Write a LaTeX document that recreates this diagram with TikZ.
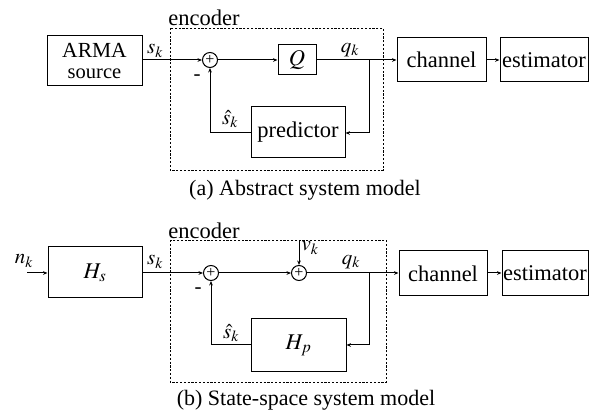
\documentclass[tikz,border=0pt]{standalone}
\usepackage{mathptmx}
\usepackage{fontspec}
\setmainfont{Liberation Serif}
\usetikzlibrary{arrows.meta}

\begin{document}
\begin{tikzpicture}[x=1pt,y=-1pt,
  every node/.style={font=\fontsize{22.5}{26}\selectfont},
  blk/.style={draw,line width=1pt,inner sep=0pt,align=center},
  sumnode/.style={draw,circle,line width=1pt,inner sep=0pt,minimum size=15pt,
    font=\fontsize{16}{16}\selectfont},
  encbox/.style={draw,line width=0.8pt,dash pattern=on 2.2pt off 1.6pt},
  wire/.style={line width=1pt},
  arr/.style={wire,-{Stealth[length=4.5pt,width=3.6pt]}},
  lbl/.style={inner sep=0pt,font=\fontsize{21}{24}\selectfont},
  captiontext/.style={inner sep=0pt,font=\fontsize{22}{26}\selectfont}]

\useasboundingbox (0,0) rectangle (590,411);

% ---------- (a) abstract system model ----------
\draw[encbox] (170,28) rectangle (383,170);
\node[lbl,font=\fontsize{22.5}{26}\selectfont] (enca) at (204,18) {encoder};

\node[blk,minimum width=95pt,minimum height=50pt] (src) at (94.5,61)
  {\fontsize{21.5}{22}\selectfont ARMA\\[-5pt]\fontsize{20.5}{21}\selectfont source};
\node[sumnode] (suma) at (210,60) {+};
\node[blk,minimum width=38pt,minimum height=30pt] (Q) at (297,60) {$Q$};
\node[blk,minimum width=94pt,minimum height=51pt] (pred) at (298,132.5) {predictor};
\node[blk,minimum width=89pt,minimum height=44pt] (chana) at (441.5,60) {channel};
\node[blk,minimum width=88pt,minimum height=44pt] (esta) at (544,60) {estimator};
\coordinate (ja) at (369,60);
\coordinate (fa) at (210,133);

\draw[arr] (src.east |- suma) -- (suma.west);
\draw[arr] (suma.east) -- (Q.west);
\draw[arr] (Q.east) -- (chana.west);
\draw[arr] (chana.east) -- (esta.west);
\draw[arr] (ja) |- (pred.east |- 0,133);
\draw[arr] (pred.west |- fa) -- (fa) -- (suma.south);

\node[lbl] (sa) at (155,51) {$s_k$};
\node[lbl] (qa) at (350,50) {$q_k$};
\node[lbl] (sha) at (230,119) {$\hat{s}_k$};
\node[lbl] (ma) at (197,78) {-};
\node[captiontext] (capa) at (305,190) {(a) Abstract system model};

% ---------- (b) state-space system model ----------
\draw[encbox] (170,240) rectangle (386,382);
\node[lbl,font=\fontsize{22.5}{26}\selectfont] (encb) at (204,231) {encoder};

\coordinate (nin) at (27,273);
\node[blk,minimum width=94pt,minimum height=51pt] (Hs) at (95,272.5) {$H_s$};
\node[sumnode] (sumb) at (211,273) {+};
\node[sumnode] (sumc) at (299,273) {+};
\coordinate (vin) at (299,241);
\node[blk,minimum width=95pt,minimum height=53pt] (Hp) at (298.5,345.5) {$H_p$};
\node[blk,minimum width=88pt,minimum height=45pt] (chanb) at (443,273.5) {channel};
\node[blk,minimum width=86pt,minimum height=45pt] (estb) at (545,273.5) {estimator};
\coordinate (jb) at (369,273);
\coordinate (fb) at (211,345);

\draw[arr] (nin) -- (Hs.west |- nin);
\draw[arr] (Hs.east |- sumb) -- (sumb.west);
\draw[arr] (sumb.east) -- (sumc.west);
\draw[arr] (vin) -- (sumc.north);
\draw[arr] (sumc.east) -- (chanb.west |- sumc);
\draw[arr] (chanb.east |- jb) -- (estb.west |- jb);
\draw[arr] (jb) |- (Hp.east |- 0,345);
\draw[arr] (Hp.west |- fb) -- (fb) -- (sumb.south);

\node[lbl] (nk) at (24,261) {$n_k$};
\node[lbl] (sb) at (155,262) {$s_k$};
\node[lbl] (vk) at (310,248) {$v_k$};
\node[lbl] (qb) at (351,262) {$q_k$};
\node[lbl] (shb) at (231,333) {$\hat{s}_k$};
\node[lbl] (mb) at (198,291) {-};
\node[captiontext] (capb) at (306,400) {(b) State-space system model};
\end{tikzpicture}
\end{document}
